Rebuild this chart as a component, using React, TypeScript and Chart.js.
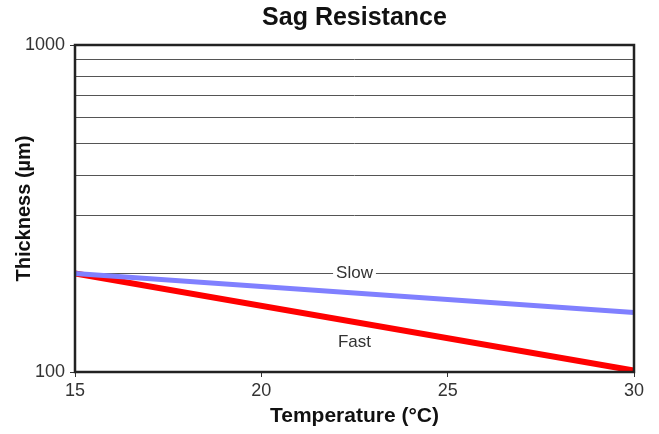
import React, { useEffect, useRef } from 'react';
import { Chart, registerables } from 'chart.js';

Chart.register(...registerables);

const temperatures = [15, 30];
const slowThickness = [200, 152];
const fastThickness = [200, 101];
const yGridValues = [100, 200, 300, 400, 500, 600, 700, 800, 900, 1000];
const yLabelValues = [100, 1000];
const xTickValues = [15, 20, 25, 30];
const seriesNames = ['Slow', 'Fast'];
const labelTemps = [22.5, 22.5];
const labelThickness = [200, 123];

const FONT = '"Liberation Sans", Arial, Helvetica, sans-serif';

const overlay = {
  id: 'overlay',
  beforeDatasetsDraw(chart: any) {
    const { ctx, scales } = chart;
    ctx.save();
    ctx.font = `17px ${FONT}`;
    seriesNames.forEach((name, i) => {
      const x = scales.x.getPixelForValue(labelTemps[i]);
      const y = scales.y.getPixelForValue(labelThickness[i]);
      const w = ctx.measureText(name).width;
      ctx.fillStyle = '#ffffff';
      ctx.fillRect(x - w / 2 - 3, y - 3, w + 6, 6);
    });
    ctx.restore();
  },
  afterDatasetsDraw(chart: any) {
    const { ctx, chartArea: a, scales } = chart;
    ctx.save();
    ctx.font = `17px ${FONT}`;
    ctx.textAlign = 'center';
    ctx.textBaseline = 'middle';
    ctx.fillStyle = '#333333';
    seriesNames.forEach((name, i) => {
      const x = scales.x.getPixelForValue(labelTemps[i]);
      const y = scales.y.getPixelForValue(labelThickness[i]);
      ctx.fillText(name, x, y);
    });
    ctx.lineWidth = 2.5;
    ctx.strokeStyle = '#222222';
    ctx.strokeRect(a.left, a.top, a.right - a.left, a.bottom - a.top);
    ctx.restore();
  },
};

export default function App() {
  const ref = useRef<HTMLCanvasElement | null>(null);

  useEffect(() => {
    document.body.style.margin = '0';
    if (!ref.current) return;
    const chart = new Chart(ref.current, {
      type: 'line',
      data: {
        datasets: [
          {
            label: seriesNames[0],
            data: temperatures.map((t, i) => ({ x: t, y: slowThickness[i] })),
            borderColor: '#8080ff',
            borderWidth: 5,
            pointRadius: 0,
            tension: 0,
          },
          {
            label: seriesNames[1],
            data: temperatures.map((t, i) => ({ x: t, y: fastThickness[i] })),
            borderColor: '#ff0000',
            borderWidth: 6,
            pointRadius: 0,
            tension: 0,
          },
        ],
      },
      options: {
        animation: false,
        responsive: true,
        maintainAspectRatio: false,
        layout: { padding: { left: 0, right: 25, top: 0, bottom: 0 } },
        plugins: {
          legend: { display: false },
          tooltip: { enabled: false },
          title: {
            display: true,
            text: 'Sag Resistance',
            fullSize: false,
            color: '#111111',
            font: { family: FONT, size: 25, weight: 'bold', lineHeight: 1.2 },
            padding: { top: 3, bottom: 12 },
          },
        },
        scales: {
          x: {
            type: 'linear',
            min: 15,
            max: 30,
            afterBuildTicks: (s: any) => {
              s.ticks = xTickValues.map((v) => ({ value: v }));
            },
            afterFit: (s: any) => {
              s.height = 62;
            },
            ticks: {
              autoSkip: false,
              padding: 3,
              color: '#333333',
              font: { family: FONT, size: 18 },
              maxRotation: 0,
            },
            grid: {
              drawOnChartArea: false,
              drawTicks: true,
              tickLength: 5,
              tickColor: '#333333',
            },
            border: { display: false },
            title: {
              display: true,
              text: 'Temperature (°C)',
              color: '#111111',
              font: { family: FONT, size: 21, weight: 'bold', lineHeight: 1.2 },
              padding: { top: 0, bottom: 5 },
            },
          },
          y: {
            type: 'logarithmic',
            min: 100,
            max: 1000,
            afterBuildTicks: (s: any) => {
              s.ticks = yGridValues.map((v) => ({ value: v }));
            },
            afterFit: (s: any) => {
              s.width = 75;
            },
            ticks: {
              autoSkip: false,
              padding: 5,
              color: '#333333',
              font: { family: FONT, size: 18 },
              callback: (v: any) => (yLabelValues.includes(Number(v)) ? String(v) : ''),
            },
            grid: {
              lineWidth: 1,
              tickLength: 5,
              color: (c: any) =>
                c.tick && yLabelValues.includes(c.tick.value) ? 'rgba(0,0,0,0)' : '#555555',
              tickColor: (c: any) =>
                c.tick && yLabelValues.includes(c.tick.value) ? '#333333' : 'rgba(0,0,0,0)',
            },
            border: { display: false },
            title: {
              display: true,
              text: 'Thickness (µm)',
              color: '#111111',
              font: { family: FONT, size: 20, weight: 'bold', lineHeight: 1.2 },
              padding: { top: 12, bottom: 0 },
            },
          },
        },
      },
      plugins: [overlay],
    });
    return () => chart.destroy();
  }, []);

  return (
    <div style={{ position: 'absolute', left: 0, top: 0, width: 659, height: 434 }}>
      <canvas ref={ref} />
    </div>
  );
}
